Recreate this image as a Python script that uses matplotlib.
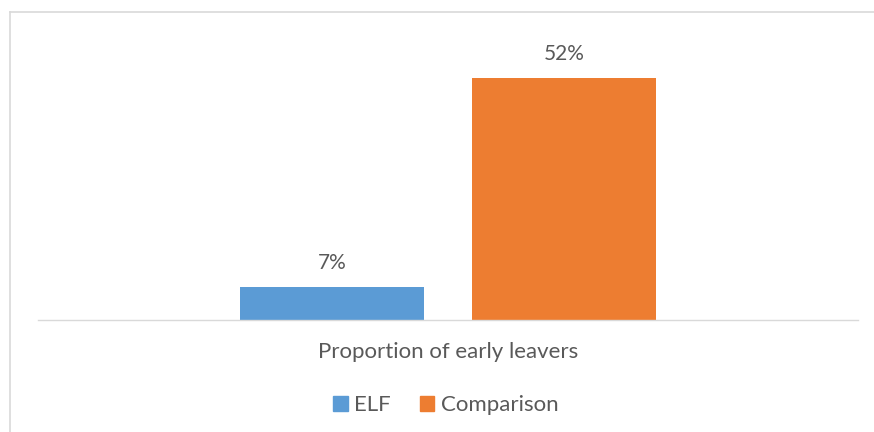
import matplotlib.pyplot as plt
from matplotlib.lines import Line2D
from matplotlib.patches import Patch

category = "Proportion of early leavers"
series = ["ELF", "Comparison"]
values = [7, 52]
colors = ["#5B9BD5", "#ED7D31"]

plt.rcParams['font.family'] = ['Lato', 'DejaVu Sans']
txt = "#595959"

fig = plt.figure(figsize=(8.74, 4.32), dpi=100)
W, H = 874, 432
ax = fig.add_axes([38 / W, 112 / H, 820 / W, 310 / H])

offsets = [-0.283, 0.283]
for off, v, c in zip(offsets, values, colors):
    ax.bar(off, v, width=0.449, color=c)
    ax.text(off, v + 3.0, f"{v}%", ha='center', va='bottom', fontsize=15, color=txt)

ax.set_xlim(-1, 1)
ax.set_ylim(0, 310 / 242 * 52)
for s in ['top', 'right', 'left']:
    ax.spines[s].set_visible(False)
ax.spines['bottom'].set_color('#D9D9D9')
ax.spines['bottom'].set_linewidth(1)
ax.set_yticks([])
ax.set_xticks([0])
ax.set_xticklabels([category], fontsize=16, color=txt)
ax.tick_params(axis='x', length=0, pad=16)

handles = [Patch(color=c, label=s) for s, c in zip(series, colors)]
fig.legend(handles=handles, loc='center', bbox_to_anchor=(446 / W, 1 - 405 / H),
           ncol=2, frameon=False, fontsize=16, labelcolor=txt,
           handlelength=0.65, handleheight=0.65, handletextpad=0.3, columnspacing=1.3)

# outer frame (left and top edges visible)
fig.add_artist(Line2D([10 / W, 10 / W], [0, 1 - 12 / H], color='#D9D9D9', lw=1.2, transform=fig.transFigure))
fig.add_artist(Line2D([10 / W, 1], [1 - 12 / H, 1 - 12 / H], color='#D9D9D9', lw=1.2, transform=fig.transFigure))

fig.savefig("out.png", dpi=100)
